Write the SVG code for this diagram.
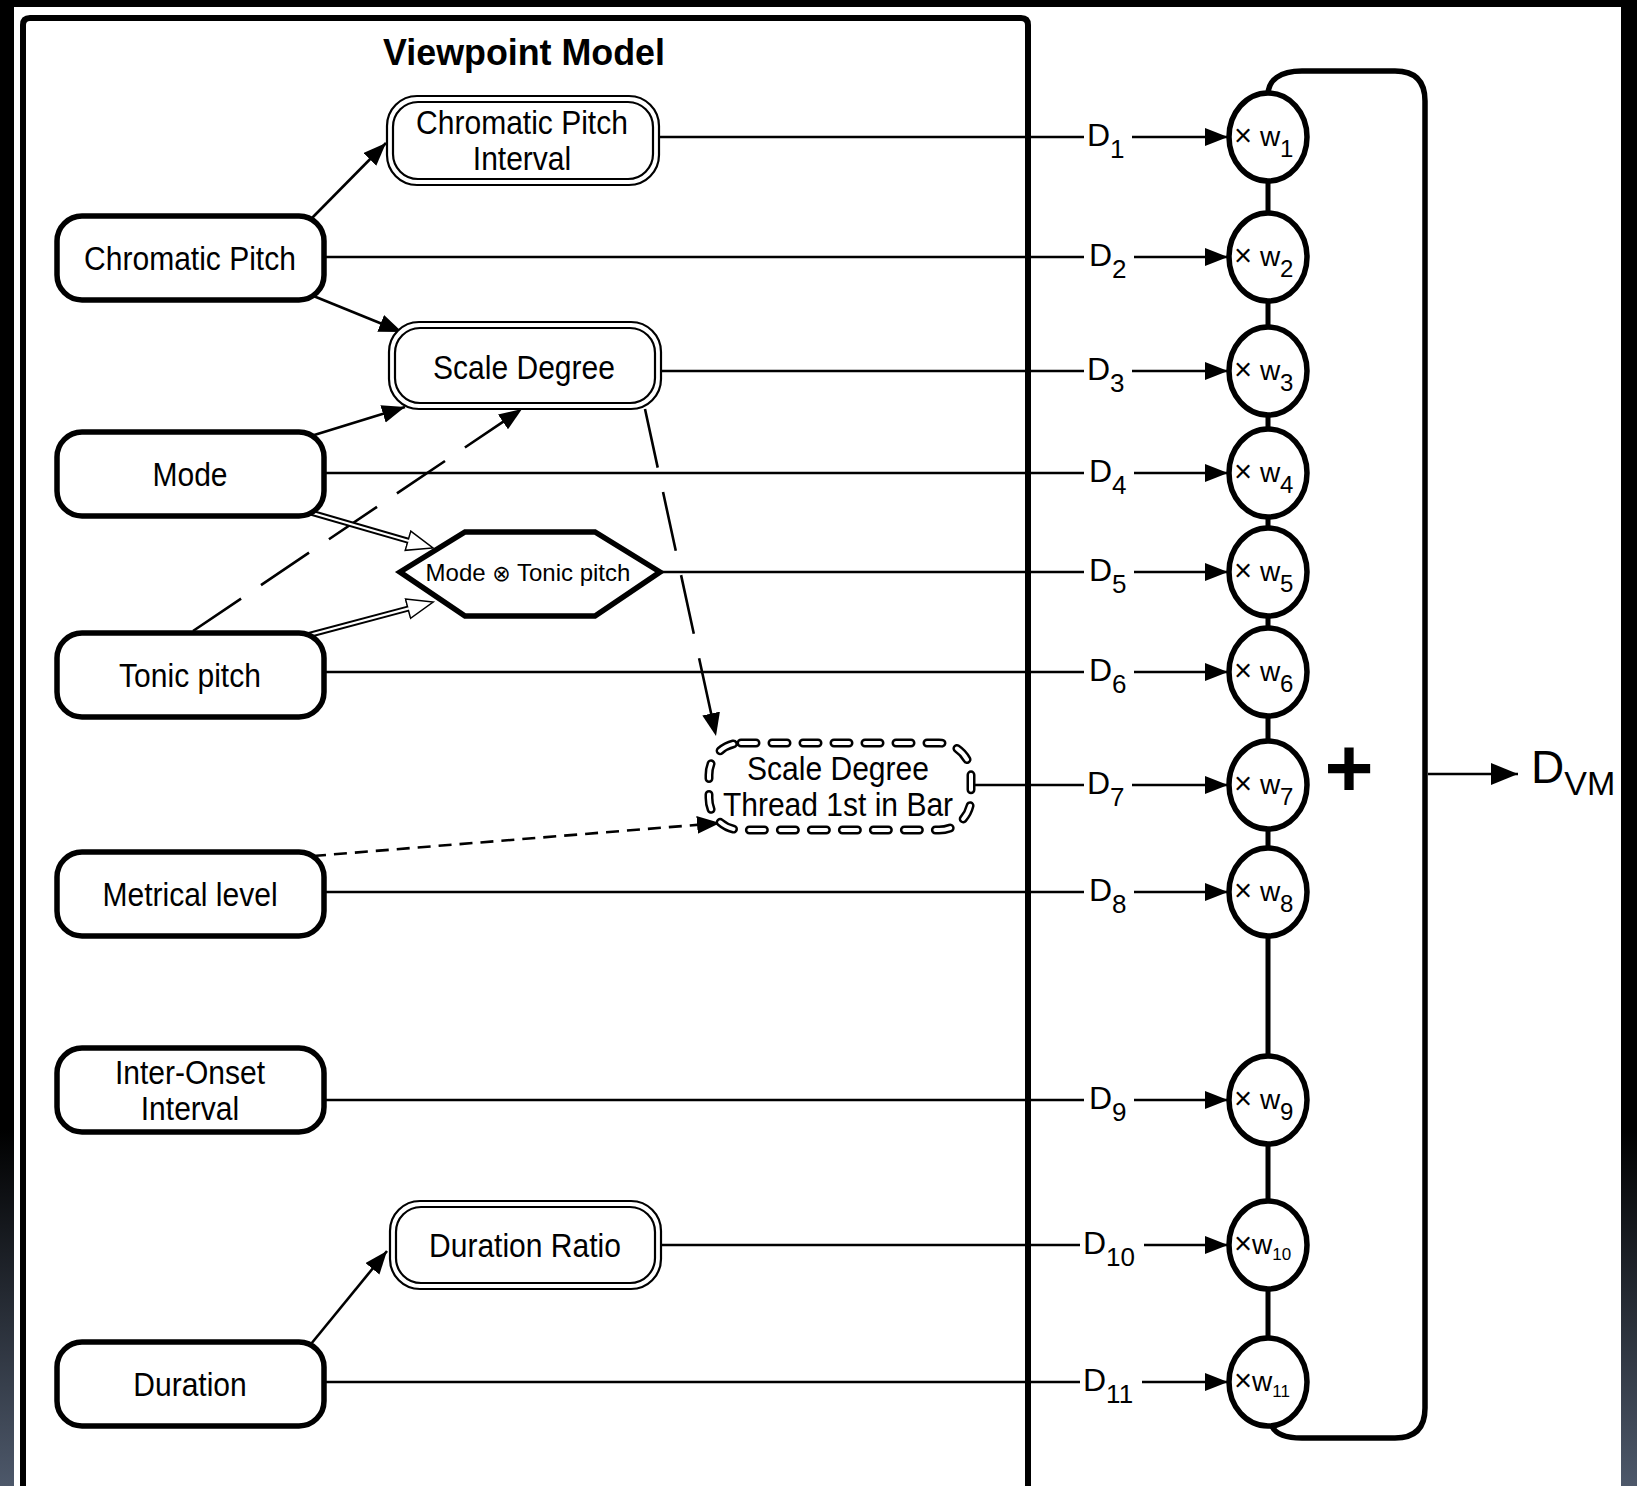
<svg xmlns="http://www.w3.org/2000/svg" width="1637" height="1486" viewBox="0 0 1637 1486">
  <defs>
    <linearGradient id="strip" x1="0" y1="0" x2="0" y2="1486" gradientUnits="userSpaceOnUse">
      <stop offset="0" stop-color="#000"/>
      <stop offset="0.76" stop-color="#000"/>
      <stop offset="1" stop-color="#4d586a"/>
    </linearGradient>
    <marker id="arr" markerUnits="userSpaceOnUse" markerWidth="26" markerHeight="20" refX="23" refY="9" orient="auto">
      <path d="M0,0 L23,9 L0,18 z" fill="#000"/>
    </marker>
    <marker id="arrBig" markerUnits="userSpaceOnUse" markerWidth="30" markerHeight="24" refX="27" refY="11" orient="auto">
      <path d="M0,0 L27,11 L0,22 z" fill="#000"/>
    </marker>
    <marker id="hollow" markerUnits="userSpaceOnUse" markerWidth="30" markerHeight="24" refX="1" refY="11" orient="auto">
      <path d="M1,1 L27,11 L1,21 z" fill="#fff" stroke="#000" stroke-width="1.5"/>
    </marker>
    <style>
      .lbl { font-family: "Liberation Sans", Arial, Helvetica, sans-serif; fill: #000; }
      .node { fill: #fff; stroke: #000; stroke-width: 5.5; }
      .dbl { fill: #fff; stroke: #000; stroke-width: 2.2; }
      .nt { font-size: 33px; text-anchor: middle; transform-box: fill-box; transform-origin: center; transform: scaleX(0.91); }
      .wire { stroke: #000; stroke-width: 2.6; fill: none; }
      .link { stroke: #000; stroke-width: 2.6; fill: none; }
      .dl { font-size: 32px; }
      .ws { font-size: 28px; }
      .x { font-size: 31px; }
      .circ { fill: #fff; stroke: #000; stroke-width: 5.5; }
    </style>
  </defs>

  <!-- page frame -->
  <rect x="0" y="0" width="1637" height="1486" fill="#000"/>
  <rect x="0" y="0" width="14" height="1486" fill="url(#strip)"/>
  <rect x="1621" y="0" width="16" height="1486" fill="url(#strip)"/>
  <rect x="14" y="7" width="1607" height="1479" fill="#fff"/>

  <!-- viewpoint model container -->
  <g id="viewpoint-model">
    <path d="M23,1486 V25 Q23,18 30,18 H1021 Q1028,18 1028,25 V1486" fill="none" stroke="#000" stroke-width="6"/>
    <text class="lbl" x="383" y="65" font-size="37" font-weight="bold" textLength="282" lengthAdjust="spacingAndGlyphs">Viewpoint Model</text>
  </g>

  <!-- connectors -->
  <g id="connectors">
    <!-- outputs to weights -->
    <line class="wire" x1="659" y1="137" x2="1084" y2="137"/>
    <line class="wire" x1="324" y1="257" x2="1084" y2="257"/>
    <line class="wire" x1="661" y1="371" x2="1084" y2="371"/>
    <line class="wire" x1="324" y1="473" x2="1084" y2="473"/>
    <line class="wire" x1="660" y1="572" x2="1084" y2="572"/>
    <line class="wire" x1="324" y1="672" x2="1084" y2="672"/>
    <line class="wire" x1="973" y1="785" x2="1084" y2="785"/>
    <line class="wire" x1="324" y1="892" x2="1084" y2="892"/>
    <line class="wire" x1="324" y1="1100" x2="1084" y2="1100"/>
    <line class="wire" x1="661" y1="1245" x2="1080" y2="1245"/>
    <line class="wire" x1="324" y1="1382" x2="1080" y2="1382"/>

    <line class="wire" x1="1132" y1="137" x2="1228" y2="137" marker-end="url(#arr)"/>
    <line class="wire" x1="1134" y1="257" x2="1228" y2="257" marker-end="url(#arr)"/>
    <line class="wire" x1="1132" y1="371" x2="1228" y2="371" marker-end="url(#arr)"/>
    <line class="wire" x1="1134" y1="473" x2="1228" y2="473" marker-end="url(#arr)"/>
    <line class="wire" x1="1134" y1="572" x2="1228" y2="572" marker-end="url(#arr)"/>
    <line class="wire" x1="1134" y1="672" x2="1228" y2="672" marker-end="url(#arr)"/>
    <line class="wire" x1="1132" y1="785" x2="1228" y2="785" marker-end="url(#arr)"/>
    <line class="wire" x1="1134" y1="892" x2="1228" y2="892" marker-end="url(#arr)"/>
    <line class="wire" x1="1134" y1="1100" x2="1228" y2="1100" marker-end="url(#arr)"/>
    <line class="wire" x1="1144" y1="1245" x2="1228" y2="1245" marker-end="url(#arr)"/>
    <line class="wire" x1="1142" y1="1382" x2="1228" y2="1382" marker-end="url(#arr)"/>

    <!-- derivations inside the model -->
    <line class="link" x1="311" y1="219" x2="386" y2="143" marker-end="url(#arr)"/>
    <line class="link" x1="311" y1="295" x2="402" y2="332" marker-end="url(#arr)"/>
    <line class="link" x1="311" y1="436" x2="405" y2="407" marker-end="url(#arr)"/>
    <line class="link" x1="193" y1="631" x2="522" y2="409" stroke-dasharray="58 24" marker-end="url(#arr)"/>
    <line class="link" x1="645" y1="409" x2="716" y2="736" stroke-dasharray="60 25" marker-end="url(#arr)"/>
    <line class="link" x1="313" y1="856" x2="720" y2="823" stroke-dasharray="13 8" marker-end="url(#arr)"/>
    <line class="link" x1="311" y1="1344" x2="387" y2="1251" marker-end="url(#arr)"/>

    <!-- linked viewpoint inputs (double line, open head) -->
    <line x1="309" y1="512" x2="408" y2="540.7" stroke="#000" stroke-width="6" marker-end="url(#hollow)"/>
    <line x1="309" y1="512" x2="409" y2="541" stroke="#fff" stroke-width="2.2"/>
    <line x1="309" y1="635" x2="408" y2="608.7" stroke="#000" stroke-width="6" marker-end="url(#hollow)"/>
    <line x1="309" y1="635" x2="409" y2="608.4" stroke="#fff" stroke-width="2.2"/>

    <!-- summation bracket -->
    <line x1="1268" y1="160" x2="1268" y2="1360" stroke="#000" stroke-width="5"/>
    <path d="M1268,95 C1268,80 1280,71 1302,71 H1395 Q1425,71 1425,101 V1408 Q1425,1438 1395,1438 H1302 C1284,1438 1274,1433 1271,1424" fill="none" stroke="#000" stroke-width="5.5"/>
    <line class="wire" x1="1428" y1="774" x2="1518" y2="774" marker-end="url(#arrBig)"/>
  </g>

  <!-- basic viewpoints -->
  <g id="chromatic-pitch">
    <rect class="node" x="57" y="216" width="267" height="84" rx="25"/>
    <text class="lbl nt" x="190" y="270">Chromatic Pitch</text>
  </g>
  <g id="mode">
    <rect class="node" x="57" y="432" width="267" height="84" rx="25"/>
    <text class="lbl nt" x="190" y="486">Mode</text>
  </g>
  <g id="tonic-pitch">
    <rect class="node" x="57" y="633" width="267" height="84" rx="25"/>
    <text class="lbl nt" x="190" y="687">Tonic pitch</text>
  </g>
  <g id="metrical-level">
    <rect class="node" x="57" y="852" width="267" height="84" rx="25"/>
    <text class="lbl nt" x="190" y="906">Metrical level</text>
  </g>
  <g id="inter-onset-interval">
    <rect class="node" x="57" y="1048" width="267" height="84" rx="25"/>
    <text class="lbl nt" x="190" y="1084">Inter-Onset</text>
    <text class="lbl nt" x="190" y="1120">Interval</text>
  </g>
  <g id="duration">
    <rect class="node" x="57" y="1342" width="267" height="84" rx="25"/>
    <text class="lbl nt" x="190" y="1396">Duration</text>
  </g>

  <!-- derived viewpoints -->
  <g id="chromatic-pitch-interval">
    <rect class="dbl" x="387" y="96" width="272" height="89" rx="30"/>
    <rect class="dbl" x="393" y="102" width="260" height="77" rx="25"/>
    <text class="lbl nt" x="522" y="134">Chromatic Pitch</text>
    <text class="lbl nt" x="522" y="170">Interval</text>
  </g>
  <g id="scale-degree">
    <rect class="dbl" x="389" y="322" width="272" height="87" rx="30"/>
    <rect class="dbl" x="395" y="328" width="260" height="75" rx="25"/>
    <text class="lbl nt" x="524" y="379">Scale Degree</text>
  </g>
  <g id="duration-ratio">
    <rect class="dbl" x="390" y="1201" width="271" height="88" rx="30"/>
    <rect class="dbl" x="396" y="1207" width="259" height="76" rx="25"/>
    <text class="lbl nt" x="525" y="1257">Duration Ratio</text>
  </g>

  <!-- linked viewpoint -->
  <g id="mode-x-tonic">
    <polygon points="400,572 465,532 595,532 660,572 595,616 465,616" fill="#fff" stroke="#000" stroke-width="5.5" stroke-linejoin="miter"/>
    <text class="lbl" x="528" y="581" font-size="24" text-anchor="middle">Mode <tspan font-family="DejaVu Sans, sans-serif" font-size="22">⊗</tspan> Tonic pitch</text>
  </g>

  <!-- threaded viewpoint -->
  <g id="scale-degree-thread">
    <rect x="709" y="743" width="262" height="87" rx="32" fill="#fff" stroke="#000" stroke-width="9" stroke-dasharray="15 16" stroke-linecap="round"/>
    <rect x="709" y="743" width="262" height="87" rx="32" fill="none" stroke="#fff" stroke-width="4" stroke-dasharray="15 16" stroke-linecap="round"/>
    <text class="lbl nt" x="838" y="780">Scale Degree</text>
    <text class="lbl nt" x="838" y="816">Thread 1st in Bar</text>
  </g>

  <!-- distribution labels -->
  <g id="dist-labels" class="lbl">
    <text class="dl" x="1087" y="146">D<tspan font-size="26" dy="12">1</tspan></text>
    <text class="dl" x="1089" y="266">D<tspan font-size="26" dy="12">2</tspan></text>
    <text class="dl" x="1087" y="380">D<tspan font-size="26" dy="12">3</tspan></text>
    <text class="dl" x="1089" y="482">D<tspan font-size="26" dy="12">4</tspan></text>
    <text class="dl" x="1089" y="581">D<tspan font-size="26" dy="12">5</tspan></text>
    <text class="dl" x="1089" y="681">D<tspan font-size="26" dy="12">6</tspan></text>
    <text class="dl" x="1087" y="794">D<tspan font-size="26" dy="12">7</tspan></text>
    <text class="dl" x="1089" y="901">D<tspan font-size="26" dy="12">8</tspan></text>
    <text class="dl" x="1089" y="1109">D<tspan font-size="26" dy="12">9</tspan></text>
    <text class="dl" x="1083" y="1254">D<tspan font-size="26" dy="12">10</tspan></text>
    <text class="dl" x="1083" y="1391">D<tspan font-size="26" dy="12">11</tspan></text>
  </g>

  <!-- weighting nodes -->
  <g id="w1"><ellipse class="circ" cx="1268" cy="137" rx="39" ry="44"/><text class="lbl ws" x="1234" y="146"><tspan class="x">×</tspan> w<tspan font-size="24" dy="11">1</tspan></text></g>
  <g id="w2"><ellipse class="circ" cx="1268" cy="257" rx="39" ry="44"/><text class="lbl ws" x="1234" y="266"><tspan class="x">×</tspan> w<tspan font-size="24" dy="11">2</tspan></text></g>
  <g id="w3"><ellipse class="circ" cx="1268" cy="371" rx="39" ry="44"/><text class="lbl ws" x="1234" y="380"><tspan class="x">×</tspan> w<tspan font-size="24" dy="11">3</tspan></text></g>
  <g id="w4"><ellipse class="circ" cx="1268" cy="473" rx="39" ry="44"/><text class="lbl ws" x="1234" y="482"><tspan class="x">×</tspan> w<tspan font-size="24" dy="11">4</tspan></text></g>
  <g id="w5"><ellipse class="circ" cx="1268" cy="572" rx="39" ry="44"/><text class="lbl ws" x="1234" y="581"><tspan class="x">×</tspan> w<tspan font-size="24" dy="11">5</tspan></text></g>
  <g id="w6"><ellipse class="circ" cx="1268" cy="672" rx="39" ry="44"/><text class="lbl ws" x="1234" y="681"><tspan class="x">×</tspan> w<tspan font-size="24" dy="11">6</tspan></text></g>
  <g id="w7"><ellipse class="circ" cx="1268" cy="785" rx="39" ry="44"/><text class="lbl ws" x="1234" y="794"><tspan class="x">×</tspan> w<tspan font-size="24" dy="11">7</tspan></text></g>
  <g id="w8"><ellipse class="circ" cx="1268" cy="892" rx="39" ry="44"/><text class="lbl ws" x="1234" y="901"><tspan class="x">×</tspan> w<tspan font-size="24" dy="11">8</tspan></text></g>
  <g id="w9"><ellipse class="circ" cx="1268" cy="1100" rx="39" ry="44"/><text class="lbl ws" x="1234" y="1109"><tspan class="x">×</tspan> w<tspan font-size="24" dy="11">9</tspan></text></g>
  <g id="w10"><ellipse class="circ" cx="1268" cy="1245" rx="39" ry="44"/><text class="lbl ws" x="1234" y="1254"><tspan class="x">×</tspan>w<tspan font-size="17" dy="6">10</tspan></text></g>
  <g id="w11"><ellipse class="circ" cx="1268" cy="1382" rx="39" ry="44"/><text class="lbl ws" x="1234" y="1391"><tspan class="x">×</tspan>w<tspan font-size="17" dy="6">11</tspan></text></g>

  <!-- sum and output -->
  <g id="sum">
    <text class="lbl" x="1349" y="797" font-size="84" font-weight="bold" text-anchor="middle">+</text>
  </g>
  <g id="output">
    <text class="lbl" x="1531" y="783" font-size="46">D<tspan font-size="34" dy="12">VM</tspan></text>
  </g>
</svg>
